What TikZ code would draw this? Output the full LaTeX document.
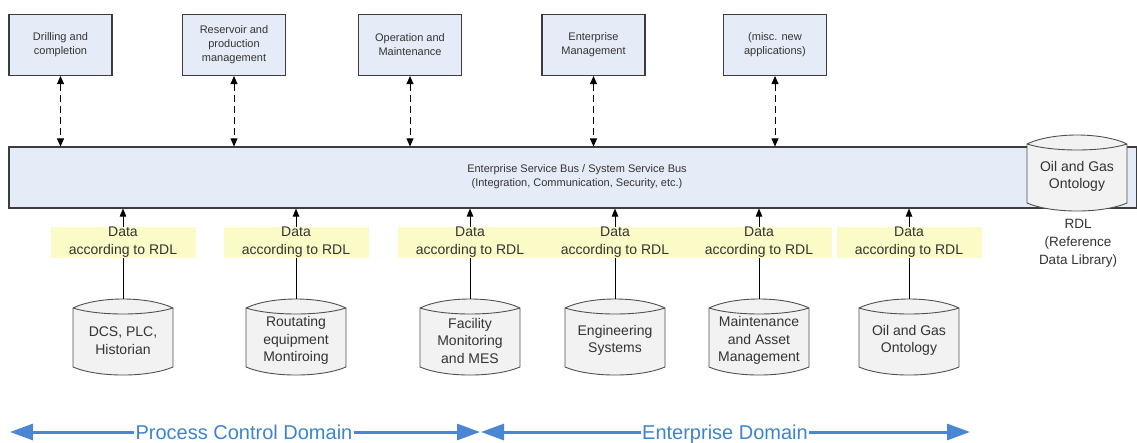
\documentclass[tikz,border=0pt]{standalone}
\usepackage{fontspec}
\setmainfont{Liberation Sans}
\usetikzlibrary{arrows.meta}
\definecolor{boxfill}{HTML}{E6ECF7}
\definecolor{boxline}{HTML}{3C3C3C}
\definecolor{txt}{HTML}{333333}
\definecolor{yel}{HTML}{FBFBC8}
\definecolor{cylfill}{HTML}{F2F2F2}
\definecolor{cylline}{HTML}{505050}
\definecolor{domblue}{HTML}{4A86D3}
\definecolor{domtext}{HTML}{3B84CE}
\newcommand\mycyl[4]{%
  \filldraw[cylshape] (#2-50,#3-32.5) .. controls (#2-25,#3-44.5) and (#2+25,#3-44.5) .. (#2+50,#3-32.5)
     -- (#2+50,#3+26.5) .. controls (#2+25,#3+37.2) and (#2-25,#3+37.2) .. (#2-50,#3+26.5) -- cycle;
  \draw[cylshape] (#2-50,#3-32.5) .. controls (#2-25,#3-24.5) and (#2+25,#3-24.5) .. (#2+50,#3-32.5);
  \node[cylnode] (#1) at (#2,#3) {#4};
}
\begin{document}
\begin{tikzpicture}[x=1pt,y=-1pt,
  appbox/.style={draw=boxline, line width=1.1pt, fill=boxfill, minimum width=103pt, minimum height=61pt,
    inner sep=0pt, align=center, text=txt, font=\fontsize{11}{14}\selectfont},
  busbox/.style={draw=boxline, line width=1.1pt, fill=boxfill, minimum width=1128pt, minimum height=61pt, inner sep=0pt},
  buslabel/.style={align=center, text=txt, font=\fontsize{11}{14}\selectfont, inner sep=0pt},
  datalabel/.style={fill=yel, minimum width=145pt, minimum height=31pt, inner sep=0pt, align=center,
    text=txt, font=\fontsize{14}{18}\selectfont},
  cylshape/.style={draw=cylline, fill=cylfill, line width=0.9pt},
  cylnode/.style={minimum width=100pt, minimum height=83pt, inner sep=0pt, align=center, text=txt,
    font=\fontsize{14}{17.5}\selectfont},
  rdltext/.style={align=center, text=txt, font=\fontsize{13.5}{18}\selectfont, inner sep=0pt},
  dasharrow/.style={draw=black, line width=0.9pt, dash pattern=on 7pt off 4pt,
    {Triangle[length=8pt,width=7pt]}-{Triangle[length=8pt,width=7pt]}},
  uparrow/.style={draw=black, line width=0.9pt, -{Triangle[length=8pt,width=6.5pt]}},
  plainline/.style={draw=black, line width=0.9pt},
  domline/.style={draw=domblue, line width=3pt, -{Triangle[length=23pt,width=16pt]}},
  domlabel/.style={text=domtext, font=\fontsize{20}{24}\selectfont, inner xsep=1pt, inner ysep=0pt,
    text height=14.3pt, text depth=0pt}
]
\useasboundingbox (0,0) rectangle (1137,442);

% application boxes
\node[appbox] (b1) at (60.5,45) {Drilling and\\completion};
\node[appbox] (b2) at (234,45) {Reservoir and\\production\\management};
\node[appbox] (b3) at (410,45) {Operation and\\Maintenance};
\node[appbox] (b4) at (593.5,45) {Enterprise\\Management};
\node[appbox] (b5) at (775,45) {(misc. new\\applications)};

% bus
\node[busbox] (bus) at (573,177.5) {};
\node[buslabel] (buslbl) at (577,177) {Enterprise Service Bus / System Service Bus\\(Integration, Communication, Security, etc.)};

\foreach \b in {b1,b2,b3,b4,b5}
  \draw[dasharrow] (\b.south) -- (\b.south |- bus.north);

% ontology in bus
\mycyl{ont}{1077}{176.5}{Oil and Gas\\Ontology}
\node[rdltext] (rdl) at (1078,243) {RDL\\(Reference\\Data Library)};

% data sources
\mycyl{c1}{123}{340.5}{DCS, PLC,\\Historian}
\mycyl{c2}{296}{340.5}{Routating\\equipment\\Montiroing}
\mycyl{c3}{470}{340.5}{Facility\\Monitoring\\and MES}
\mycyl{c4}{615}{340.5}{Engineering\\Systems}
\mycyl{c5}{759}{340.5}{Maintenance\\and Asset\\Management}
\mycyl{c6}{909}{340.5}{Oil and Gas\\Ontology}

\foreach \i/\x in {1/123,2/296,3/470,4/615,5/759,6/909}{
  \node[datalabel] (d\i) at (\x,242.5) {Data\\according to RDL};
  \draw[plainline] (c\i.north) -- (d\i.south);
  \draw[uparrow] (d\i.north) -- (d\i.north |- bus.south);
}

% domains
\coordinate (pcl) at (10,432);
\coordinate (pcr) at (480,432);
\coordinate (edl) at (481,432);
\coordinate (edr) at (970,432);
\node[domlabel] (pcd) at (244,432) {Process Control Domain};
\node[domlabel] (edd) at (725,432) {Enterprise Domain};
\draw[domline] (pcd.west) -- (pcl);
\draw[domline] (pcd.east) -- (pcr);
\draw[domline] (edd.west) -- (edl);
\draw[domline] (edd.east) -- (edr);
\end{tikzpicture}
\end{document}
